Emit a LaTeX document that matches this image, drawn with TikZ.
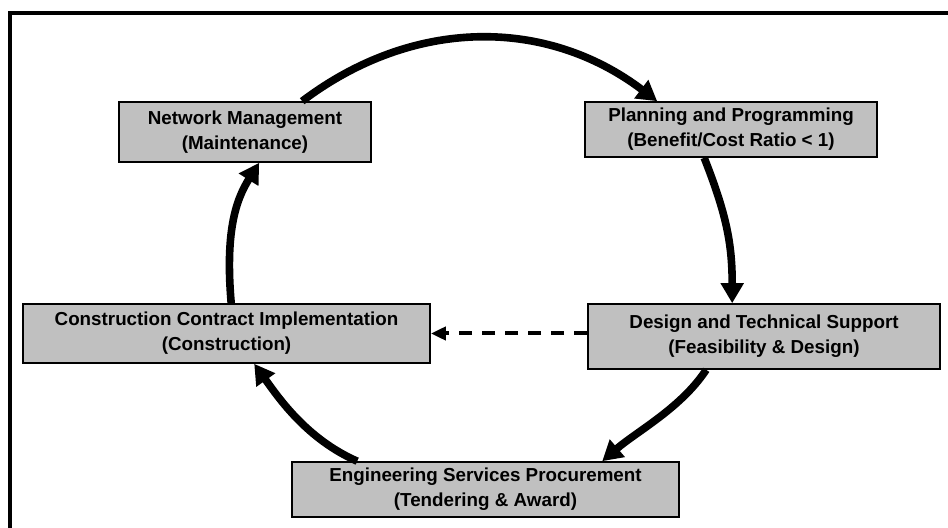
\documentclass[tikz,border=0pt]{standalone}
\usepackage{fontspec}
\setmainfont{Liberation Sans}
\usetikzlibrary{arrows.meta,calc}

\definecolor{boxgray}{HTML}{C0C0C0}

\tikzset{
  stagebox/.style={draw=black, line width=0.8pt, fill=boxgray, inner sep=0pt,
    align=center, font=\bfseries\fontsize{9.4}{12.5}\selectfont},
  flow/.style={line width=3.8pt, -{Triangle[length=10pt,width=11pt]}},
  bypass/.style={line width=2pt, dash pattern=on 6.5pt off 5pt,
    -{Triangle[length=7.5pt,width=6.5pt]}},
  frame/.style={draw=black, line width=2pt}
}

\begin{document}
\begin{tikzpicture}[x=0.5pt, y=-0.5pt]
  \useasboundingbox (0,0) rectangle (948,528);
  \clip (0,0) rectangle (948,528);

  % outer frame (runs past the right and bottom edges)
  \draw[frame] (10,12.7) rectangle (990,570);

  % project cycle stages
  \node[stagebox, minimum width=126pt, minimum height=30pt] (nm) at (245,132)
    {Network Management\\(Maintenance)};
  \node[stagebox, minimum width=146pt, minimum height=27.5pt] (pl) at (731,129.5)
    {Planning and Programming\\(Benefit/Cost Ratio < 1)};
  \node[stagebox, minimum width=203.5pt, minimum height=29.5pt] (cc) at (226.5,333.5)
    {Construction Contract Implementation\\(Construction)};
  \node[stagebox, minimum width=176pt, minimum height=32.5pt] (ds) at (764,336.5)
    {Design and Technical Support\\(Feasibility \& Design)};
  \node[stagebox, minimum width=193.5pt, minimum height=27.5pt] (es) at (485.5,489.5)
    {Engineering Services Procurement\\(Tendering \& Award)};

  % attachment points on the box edges
  \coordinate (nmTop) at ($(nm.north west)+(184,0)$);
  \coordinate (plTop) at ($(pl.north west)+(73,0)$);
  \coordinate (plBot) at ($(pl.south west)+(120,0)$);
  \coordinate (dsTop) at ($(ds.north west)+(145,0)$);
  \coordinate (dsBot) at ($(ds.south west)+(119,0)$);
  \coordinate (esTopR) at ($(es.north west)+(311,0)$);
  \coordinate (esTopL) at ($(es.north west)+(66,0)$);
  \coordinate (ccBot) at ($(cc.south west)+(232,0)$);
  \coordinate (ccTop) at ($(cc.north west)+(209,0)$);
  \coordinate (nmBot) at ($(nm.south west)+(141,0)$);
  \coordinate (dsLeft) at (ds.west |- cc.east);

  % cycle
  \draw[flow] (nmTop) .. controls +(111,-84) and +(-111,-84) .. (plTop);
  \draw[flow] (plBot) .. controls +(22,56) and +(0,-60) .. (dsTop);
  \draw[flow] (dsBot) .. controls +(-25,38) and +(35,-30) .. (esTopR);
  \draw[flow] (esTopL) .. controls +(-50,-22) and +(25,35) .. (ccBot);
  \draw[flow] (ccTop) .. controls +(-6,-70) and +(-24,38) .. (nmBot);

  % direct route from design to construction
  \draw[bypass] (dsLeft) -- (cc.east);
\end{tikzpicture}
\end{document}
